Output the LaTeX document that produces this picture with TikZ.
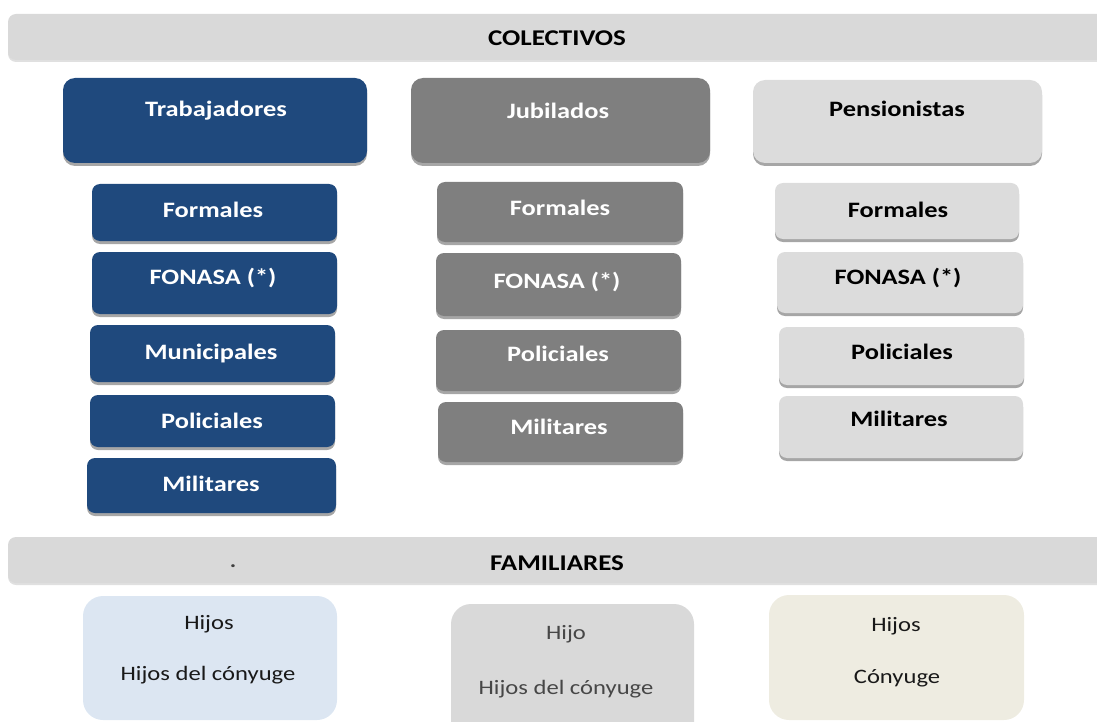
\documentclass[tikz,border=0pt]{standalone}
\usepackage{fontspec}
\setmainfont{Carlito}[FakeStretch=1.2]
\usetikzlibrary{shadows}
\definecolor{trab}{HTML}{1F497D}
\definecolor{jub}{HTML}{7F7F7F}
\definecolor{pens}{HTML}{DCDCDC}
\definecolor{barc}{HTML}{D9D9D9}
\definecolor{famL}{HTML}{DCE6F2}
\definecolor{famM}{HTML}{D9D9D9}
\definecolor{famR}{HTML}{EEECE1}
\begin{document}
\begin{tikzpicture}[x=1pt,y=-1pt,
  bx/.style={draw=none,inner sep=0pt,rounded corners=#1},
  bx/.default=8pt,
  shd/.style={drop shadow={shadow xshift=0pt,shadow yshift=-3pt,fill=black,opacity=.35}},
  lshd/.style={drop shadow={shadow xshift=0pt,shadow yshift=-2pt,fill=black,opacity=.12}},
  bartxt/.style={inner sep=0pt,text height=14.2pt,text depth=0pt,font=\fontsize{22.5}{24}\selectfont\bfseries},
  hdtxt/.style={inner sep=0pt,text height=13.9pt,text depth=0pt,font=\fontsize{22}{24}\selectfont\bfseries},
  subtxt/.style={inner sep=0pt,text height=13.9pt,text depth=0pt,font=\fontsize{22}{24}\selectfont\bfseries},
  famtxt/.style={inner sep=0pt,text height=12.9pt,text depth=0pt,font=\fontsize{20.5}{22}\selectfont},
]
\useasboundingbox (0,0) rectangle (1097,722);
\clip (0,0) rectangle (1097,722);
% bars
\node[bx=8pt,lshd,fill=barc,minimum width=1102pt,minimum height=46pt] (bar1) at (559,37) {};
\node[bartxt] (bar1t) at (557,38) {COLECTIVOS};
% headers
\node[bx=12pt,shd,fill=trab,minimum width=304pt,minimum height=85pt] (th) at (215,120.5) {};
\node[hdtxt,text=white] (tht) at (216,110) {Trabajadores};
\node[bx=12pt,shd,fill=jub,minimum width=299pt,minimum height=85pt] (jh) at (560.5,120.5) {};
\node[hdtxt,text=white] (jht) at (558,112) {Jubilados};
\node[bx=12pt,shd,fill=pens,minimum width=289pt,minimum height=83pt] (ph) at (897.5,121.5) {};
\node[hdtxt,text=black] (pht) at (897,110) {Pensionistas};
% Trabajadores subs
\node[bx,shd,fill=trab,minimum width=245pt,minimum height=57pt] (t1) at (214.5,212.5) {};
\node[subtxt,text=white] (t1t) at (213,211) {Formales};
\node[bx,shd,fill=trab,minimum width=245pt,minimum height=62pt] (t2) at (214.5,283) {};
\node[subtxt,text=white] (t2t) at (213,278) {FONASA (*)};
\node[bx,shd,fill=trab,minimum width=245pt,minimum height=57pt] (t3) at (212.5,353.5) {};
\node[subtxt,text=white] (t3t) at (211,353) {Municipales};
\node[bx,shd,fill=trab,minimum width=245pt,minimum height=52pt] (t4) at (212.5,421) {};
\node[subtxt,text=white] (t4t) at (212,422) {Policiales};
\node[bx,shd,fill=trab,minimum width=249pt,minimum height=55pt] (t5) at (211.5,485.5) {};
\node[subtxt,text=white] (t5t) at (211,485) {Militares};
% Jubilados subs
\node[bx,shd,fill=jub,minimum width=246pt,minimum height=60pt] (j1) at (560,212) {};
\node[subtxt,text=white] (j1t) at (560,209) {Formales};
\node[bx,shd,fill=jub,minimum width=245pt,minimum height=63pt] (j2) at (558.5,284.5) {};
\node[subtxt,text=white] (j2t) at (557,282) {FONASA (*)};
\node[bx,shd,fill=jub,minimum width=245pt,minimum height=61pt] (j3) at (558.5,360.5) {};
\node[subtxt,text=white] (j3t) at (558,355) {Policiales};
\node[bx,shd,fill=jub,minimum width=245pt,minimum height=60pt] (j4) at (560.5,432) {};
\node[subtxt,text=white] (j4t) at (559,428) {Militares};
% Pensionistas subs
\node[bx,shd,fill=pens,minimum width=244pt,minimum height=56pt] (p1) at (897,211) {};
\node[subtxt,text=black] (p1t) at (898,211) {Formales};
\node[bx,shd,fill=pens,minimum width=246pt,minimum height=61pt] (p2) at (900,282.5) {};
\node[subtxt,text=black] (p2t) at (898,278) {FONASA (*)};
\node[bx,shd,fill=pens,minimum width=245pt,minimum height=58pt] (p3) at (901.5,356) {};
\node[subtxt,text=black] (p3t) at (902,353) {Policiales};
\node[bx,shd,fill=pens,minimum width=244pt,minimum height=62pt] (p4) at (901,427) {};
\node[subtxt,text=black] (p4t) at (899,420) {Militares};
% FAMILIARES bar
\node[bx=8pt,lshd,fill=barc,minimum width=1102pt,minimum height=46pt] (bar2) at (559,560) {};
\node[bartxt] (bar2t) at (557,563) {FAMILIARES};
\node[inner sep=0pt,font=\fontsize{20}{22}\selectfont\bfseries,text=black!75] (dot) at (233,566) {.};
% family boxes
\node[bx=20pt,fill=famL,minimum width=254pt,minimum height=124pt] (fl) at (210,658) {};
\node[famtxt,text=black!90] (fl1) at (209,623) {Hijos};
\node[famtxt,text=black!90] (fl2) at (208,674) {Hijos del cónyuge};
\node[bx=20pt,fill=famM,minimum width=243pt,minimum height=141pt] (fm) at (572.5,674.5) {};
\node[famtxt,text=black!72] (fm1) at (566,633) {Hijo};
\node[famtxt,text=black!72] (fm2) at (566,688) {Hijos del cónyuge};
\node[bx=20pt,fill=famR,minimum width=255pt,minimum height=125pt] (fr) at (896.5,657.5) {};
\node[famtxt,text=black!90] (fr1) at (896,625) {Hijos};
\node[famtxt,text=black!90] (fr2) at (897,677) {Cónyuge};
\end{tikzpicture}
\end{document}
